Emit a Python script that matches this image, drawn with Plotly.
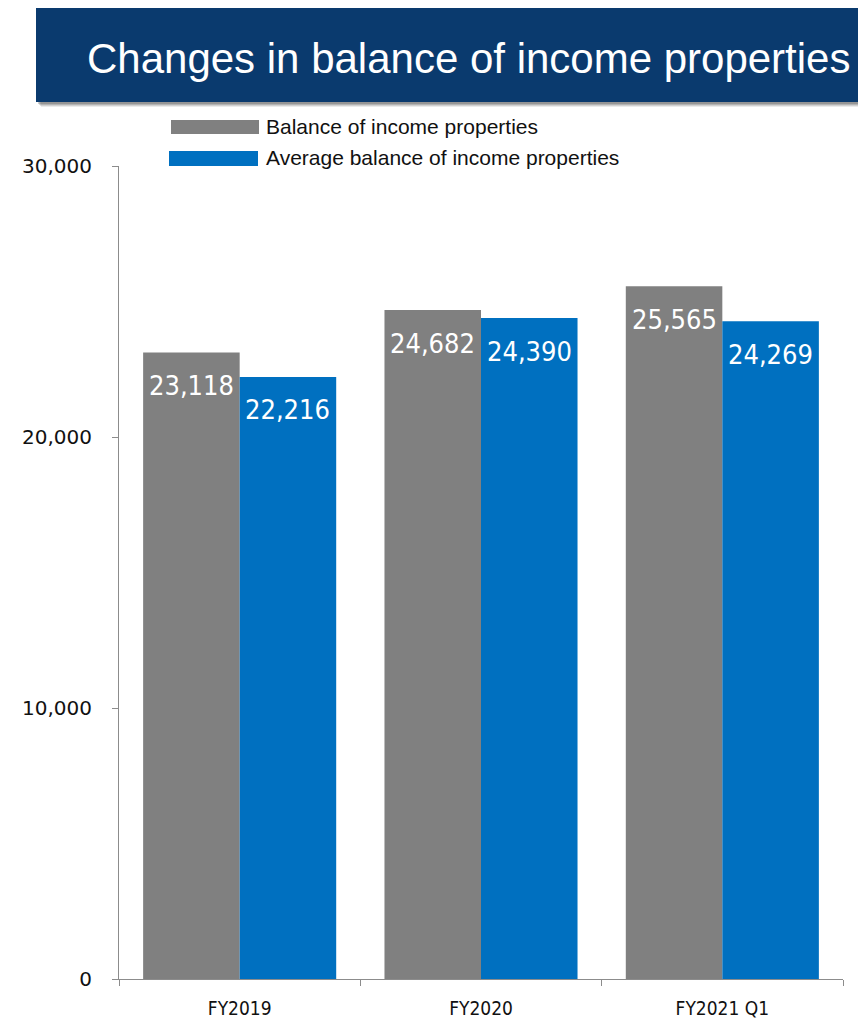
import plotly.graph_objects as go

# Chart data
periods = ["FY2019", "FY2020", "FY2021 Q1"]
balance = [23118, 24682, 25565]
avg_balance = [22216, 24390, 24269]
y_ticks = [0, 10000, 20000, 30000]
y_tick_text = ["0", "10,000", "20,000", "30,000"]
series_names = ["Balance of income properties", "Average balance of income properties"]
series_colors = ["#808080", "#0070C0"]
title_text = "Changes in balance of income properties"

W, H = 858, 1023
ML, MR, MT, MB = 119, 15, 166, 44
PW, PH = W - ML - MR, H - MT - MB


def px_x(p):
    return (p - ML) / PW


def px_y(p):
    return (H - MB - p) / PH


fig = go.Figure()
for name, vals, col in zip(series_names, [balance, avg_balance], series_colors):
    fig.add_trace(go.Bar(
        x=periods, y=vals, name=name,
        marker=dict(color=col, line=dict(width=0)),
        showlegend=False,
    ))

# value labels inside the top of each bar
label_font = dict(family="DejaVu Sans Condensed", size=27, color="white")
annotations = []
for offs, vals in ((-0.2, balance), (0.2, avg_balance)):
    for i, v in enumerate(vals):
        annotations.append(dict(
            x=i + offs, y=v, xref="x", yref="y", text=f"{v:,}",
            showarrow=False, yshift=-33, yanchor="middle", xanchor="center",
            font=label_font,
        ))

# title banner with a soft drop shadow
shapes = []
for dx, dy, a in ((5, 5, 0.10), (4, 4, 0.15), (3, 3, 0.20), (2, 2, 0.25)):
    shapes.append(dict(type="rect", xref="paper", yref="paper",
                       x0=px_x(36 + dx), x1=px_x(900), y0=px_y(102 + dy), y1=px_y(8 + dy),
                       fillcolor=f"rgba(60,60,60,{a})", line=dict(width=0), layer="above"))
shapes.append(dict(type="rect", xref="paper", yref="paper",
                   x0=px_x(36), x1=px_x(900), y0=px_y(102), y1=px_y(8),
                   fillcolor="#0A3A6E", line=dict(width=0), layer="above"))
annotations.append(dict(
    x=px_x(85), y=px_y(58), xref="paper", yref="paper", text=title_text,
    showarrow=False, xanchor="left", yanchor="middle",
    font=dict(family="Liberation Sans", size=42, color="white"),
))

# legend drawn as wide swatches with labels
legend_rows = [(171, 259, 120, 134, 127), (169, 258, 151, 166, 158)]
for (x0, x1, y0, y1, ty), name, col in zip(legend_rows, series_names, series_colors):
    shapes.append(dict(type="rect", xref="paper", yref="paper",
                       x0=px_x(x0), x1=px_x(x1), y0=px_y(y1), y1=px_y(y0),
                       fillcolor=col, line=dict(width=0)))
    annotations.append(dict(
        x=px_x(264), y=px_y(ty), xref="paper", yref="paper", text=name,
        showarrow=False, xanchor="left", yanchor="middle",
        font=dict(family="Liberation Sans", size=21, color="#111111"),
    ))

fig.update_layout(
    width=W, height=H,
    margin=dict(l=ML, r=MR, t=MT, b=MB, pad=0, autoexpand=False),
    paper_bgcolor="white", plot_bgcolor="white",
    barmode="group", bargap=0.2, bargroupgap=0,
    shapes=shapes, annotations=annotations,
    showlegend=False,
)
fig.update_xaxes(
    type="category", showgrid=False, showline=True, linecolor="#8c8c8c", linewidth=1,
    ticks="outside", tickson="boundaries", ticklen=6, tickcolor="#8c8c8c",
    tickfont=dict(family="DejaVu Sans Condensed", size=19, color="#111111"),
    ticklabelstandoff=12, zeroline=False, automargin=False,
)
fig.update_yaxes(
    range=[0, 30000], tickvals=y_ticks, ticktext=y_tick_text,
    showgrid=False, showline=True, linecolor="#8c8c8c", linewidth=1,
    ticks="outside", ticklen=6, tickcolor="#8c8c8c",
    tickfont=dict(family="DejaVu Sans", size=20, color="#111111"),
    ticklabelstandoff=16, zeroline=False, automargin=False,
)

fig.write_html("out.html")
